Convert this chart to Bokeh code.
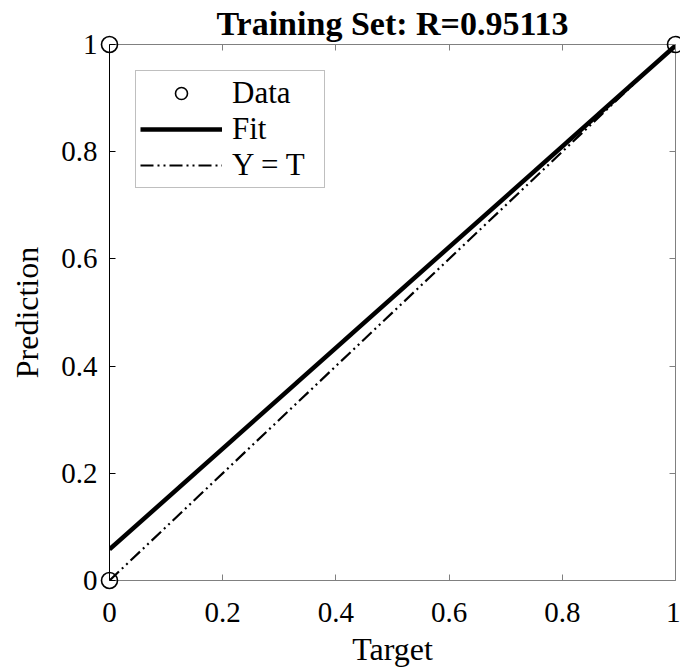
from bokeh.plotting import figure
from bokeh.models import LinearAxis, Range1d, Legend, LegendItem, FixedTicker
from bokeh.embed import file_html
from bokeh.resources import INLINE

# Data
target = [0, 0, 1]
prediction = [0, 1, 1]
fit_x = [0, 1]
fit_y = [0.058, 0.998]
ident_x = [0, 1]
ident_y = [0, 1]
ticks = [0, 0.2, 0.4, 0.6, 0.8, 1]
tick_labels = {0: "0", 0.2: "0.2", 0.4: "0.4", 0.6: "0.6", 0.8: "0.8", 1: "1"}

FONT = "Liberation Serif"

p = figure(width=680, height=671, output_backend="svg", toolbar_location=None,
           x_range=Range1d(0, 1), y_range=Range1d(0, 1),
           min_border_left=109, min_border_right=5, min_border_bottom=91, min_border_top=0)
p.outline_line_color = None
p.grid.visible = False

p.title.text = "Training Set: R=0.95113"
p.title.text_font = FONT
p.title.text_font_style = "bold"
p.title.text_font_size = "34px"
p.title.align = "center"
p.title.text_color = "black"
p.title.standoff = 5
p.title.offset = 0

for ax, color in ((p.xaxis[0], "#808080"), (p.yaxis[0], "black")):
    ax.ticker = FixedTicker(ticks=ticks)
    ax.major_label_overrides = tick_labels
    ax.major_label_text_font = FONT
    ax.major_label_text_font_size = "29px"
    ax.major_label_text_color = "black"
    ax.major_tick_in = 6
    ax.major_tick_out = 0
    ax.minor_tick_line_color = None
    ax.axis_line_color = color
    ax.major_tick_line_color = color
    ax.axis_label_text_font = FONT
    ax.axis_label_text_font_size = "32px"
    ax.axis_label_text_font_style = "normal"
    ax.axis_label_text_color = "black"

p.xaxis.axis_label = "Target"
p.yaxis.axis_label = "Prediction"
p.xaxis.major_label_standoff = 22
p.yaxis.major_label_standoff = 12
p.xaxis.axis_label_standoff = 6
p.yaxis.axis_label_standoff = 13

blank = {t: "" for t in ticks}
for loc in ("above", "right"):
    a = LinearAxis(ticker=FixedTicker(ticks=ticks), major_label_overrides=blank,
                   major_label_text_font_size="1px",
                   major_tick_in=6, major_tick_out=0, minor_tick_line_color=None,
                   axis_line_color="#808080", major_tick_line_color="#808080",
                   major_label_standoff=0)
    p.add_layout(a, loc)

r_ident = p.line(ident_x, ident_y, line_color="black", line_width=2.2, line_dash="13 4 2 4 2 4")
r_fit = p.line(fit_x, fit_y, line_color="black", line_width=4.5)
r_data = p.scatter(target, prediction, size=16, marker="circle", fill_color=None,
                   line_color="black", line_width=1.6, level="overlay")

legend = Legend(items=[LegendItem(label="Data", renderers=[r_data]),
                       LegendItem(label="Fit", renderers=[r_fit]),
                       LegendItem(label="Y = T", renderers=[r_ident])],
                location="top_left", label_text_font=FONT, label_text_font_size="31px",
                label_text_color="black",
                glyph_width=82, glyph_height=30, label_height=30, label_width=88,
                spacing=0, label_standoff=10, padding=4, margin=26,
                border_line_color="#808080", border_line_width=1.5,
                background_fill_alpha=1)
p.add_layout(legend)

open("out.html", "w").write(file_html(p, INLINE))
